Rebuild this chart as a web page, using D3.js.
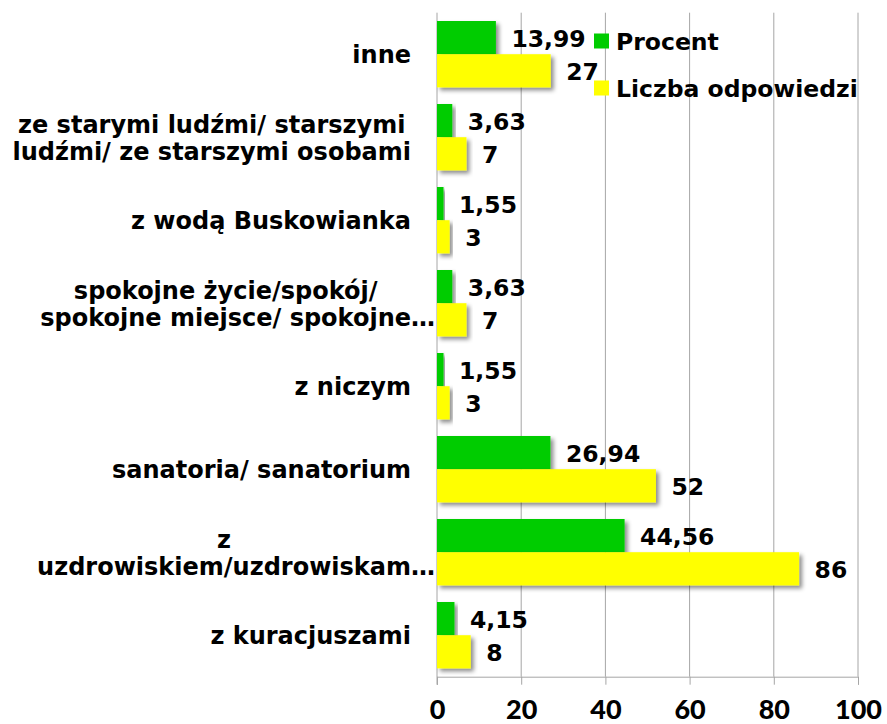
<!DOCTYPE html>
<html>
<head>
<meta charset="utf-8">
<script src="https://cdn.jsdelivr.net/npm/d3@7"></script>
<style>
body { margin: 0; background: #fff; }
svg { display: block; }
</style>
</head>
<body>
<div id="chart"></div>
<script>
// categories top to bottom, "\n" = where the label wraps
var categories = [
  "inne",
  "ze starymi ludźmi/ starszymi \nludźmi/ ze starszymi osobami",
  "z wodą Buskowianka",
  "spokojne życie/spokój/\nspokojne miejsce/ spokojne…",
  "z niczym",
  "sanatoria/ sanatorium",
  "z\nuzdrowiskiem/uzdrowiskam…",
  "z kuracjuszami"
];
var procent = [13.99, 3.63, 1.55, 3.63, 1.55, 26.94, 44.56, 4.15];
var liczba = [27, 7, 3, 7, 3, 52, 86, 8];
var seriesNames = ["Procent", "Liczba odpowiedzi"];
var seriesColors = ["#00cc00", "#ffff00"];
var xTicks = [0, 20, 40, 60, 80, 100];

var W = 887, H = 724;
var plotL = 437, plotR = 858, plotT = 12.7, plotB = 676.7;
var labelFont = "'DejaVu Sans', Verdana, sans-serif";

var svg = d3.select('#chart').append('svg')
  .attr('width', W)
  .attr('height', H);

svg.append('rect').attr('width', W).attr('height', H).attr('fill', 'white');

var defs = svg.append('defs');
var f = defs.append('filter').attr('id', 'shadow')
  .attr('x', '-10%').attr('y', '-10%').attr('width', '130%').attr('height', '140%');
f.append('feDropShadow')
  .attr('dx', 3).attr('dy', 3).attr('stdDeviation', 2)
  .attr('flood-color', '#000').attr('flood-opacity', 0.45);

var x = d3.scaleLinear().domain([0, 100]).range([plotL, plotR]);
var y = d3.scaleBand().domain(categories).range([plotT, plotB])
  .paddingInner(0.2).paddingOuter(0.1);
var sub = d3.scaleBand().domain([0, 1]).range([0, y.bandwidth()]);

// vertical gridlines
svg.append('g').selectAll('line')
  .data(xTicks.slice(1))
  .enter().append('line')
  .attr('x1', function (d) { return x(d); })
  .attr('x2', function (d) { return x(d); })
  .attr('y1', plotT)
  .attr('y2', plotB)
  .style('stroke', '#a6a6a6')
  .style('stroke-width', 1);

// x axis
var xAxis = svg.append('g')
  .attr('transform', 'translate(0,' + plotB + ')')
  .call(d3.axisBottom(x).tickValues(xTicks).tickSize(8).tickSizeOuter(8));
xAxis.select('.domain').attr('stroke', '#a6a6a6');
xAxis.selectAll('.tick line').attr('stroke', '#a6a6a6');
xAxis.selectAll('text')
  .attr('y', 42).attr('dy', 0)
  .style('font-family', 'Lato, sans-serif')
  .style('font-weight', 900)
  .style('font-size', '27px')
  .attr('fill', '#000');

// y axis line
var yAxis = svg.append('g')
  .attr('transform', 'translate(' + plotL + ',0)')
  .call(d3.axisLeft(y).tickSize(0).tickFormat(''));
yAxis.select('.domain').attr('stroke', '#a6a6a6')
  .attr('d', 'M0,' + plotT + 'V' + (plotB + 8));

// bars
var series = [procent, liczba];
series.forEach(function (vals, s) {
  svg.append('g').selectAll('rect')
    .data(vals)
    .enter().append('rect')
    .attr('x', x(0))
    .attr('y', function (d, i) { return y(categories[i]) + sub(s); })
    .attr('width', function (d) { return x(d) - x(0); })
    .attr('height', sub.bandwidth())
    .attr('fill', seriesColors[s])
    .attr('filter', 'url(#shadow)');
});

// value labels
series.forEach(function (vals, s) {
  svg.append('g').selectAll('text')
    .data(vals)
    .enter().append('text')
    .attr('x', function (d) { return x(d) + 15.5; })
    .attr('y', function (d, i) { return y(categories[i]) + sub(s) + sub.bandwidth() / 2; })
    .attr('dy', '0.4em')
    .style('font-family', labelFont)
    .style('font-weight', 'bold')
    .style('font-size', '23.5px')
    .text(function (d) { return s === 0 ? d.toFixed(2).replace('.', ',') : d; });
});

// category labels (lines centred on each other, block right aligned)
var labelRight = 411, lineH = 27;
categories.forEach(function (c) {
  var lines = c.split('\n');
  var g = svg.append('g');
  var cy = y(c) + y.bandwidth() / 2 + 9;
  var texts = lines.map(function (t, k) {
    return g.append('text')
      .attr('y', cy + (k - (lines.length - 1) / 2) * lineH)
      .style('font-family', labelFont)
      .style('font-weight', 'bold')
      .style('font-size', '24px')
      .text(t);
  });
  // width without the trailing ellipsis (it spills past the block)
  var widths = texts.map(function (t, k) {
    var plain = lines[k].replace(/…$/, '');
    var tmp = g.append('text').style('font-family', labelFont)
      .style('font-weight', 'bold').style('font-size', '24px').text(plain);
    var w = tmp.node().getComputedTextLength();
    tmp.remove();
    return w;
  });
  var maxW = d3.max(widths);
  texts.forEach(function (t, k) {
    t.attr('x', labelRight - maxW / 2 - widths[k] / 2);
  });
});

// legend
var legend = svg.append('g');
seriesNames.forEach(function (n, i) {
  legend.append('rect')
    .attr('x', 594).attr('y', 33.5 + i * 47)
    .attr('width', 15).attr('height', 15)
    .attr('fill', seriesColors[i]);
  legend.append('text')
    .attr('x', 616).attr('y', 49.5 + i * 47)
    .style('font-family', labelFont)
    .style('font-weight', 'bold')
    .style('font-size', '23.5px')
    .text(n);
});
</script>
</body>
</html>
